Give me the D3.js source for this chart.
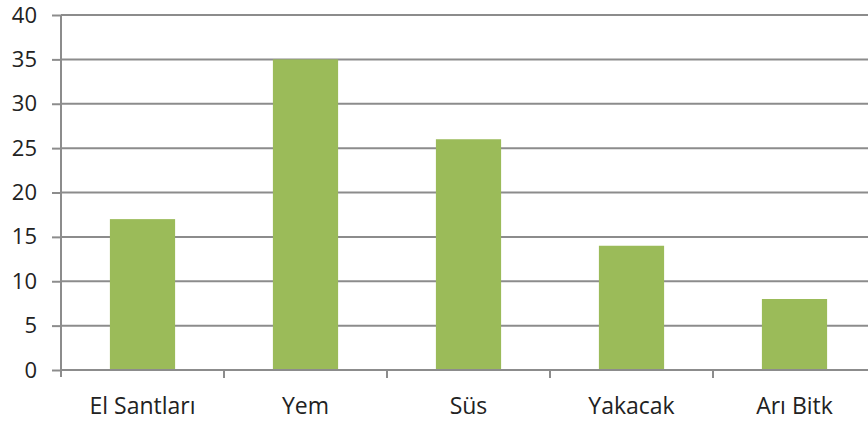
<!DOCTYPE html>
<html>
<head>
<meta charset="utf-8">
<script src="https://cdn.jsdelivr.net/npm/d3@7"></script>
<style>
  body { margin: 0; background: #fff; }
  .tick text { font-family: "Open Sans", "Liberation Sans", sans-serif; fill: #222; }
</style>
</head>
<body>
<div class="chart"></div>
<script>
var categories = ["El Santları", "Yem", "Süs", "Yakacak", "Arı Bitk"];
var values = [17, 35, 26, 14, 8];
var yTicks = [0, 5, 10, 15, 20, 25, 30, 35, 40];

var svgWidth = 868;
var svgHeight = 421;

var margin = { top: 15, right: -8, bottom: 51, left: 61 };
var chartWidth = svgWidth - margin.left - margin.right;
var chartHeight = svgHeight - margin.top - margin.bottom;

var svg = d3.select(".chart")
    .append("svg")
    .attr("width", svgWidth)
    .attr("height", svgHeight);

var chartGroup = svg.append("g")
    .attr("transform", `translate(${margin.left}, ${margin.top})`);

var xScale = d3.scaleBand()
    .domain(categories)
    .range([0, chartWidth])
    .paddingInner(0.6)
    .paddingOuter(0.3);

var yScale = d3.scaleLinear()
    .domain([0, 40])
    .range([chartHeight, 0]);

// gridlines
chartGroup.selectAll(".grid")
    .data(yTicks.filter(d => d > 0))
    .enter()
    .append("line")
    .attr("class", "grid")
    .attr("x1", 0)
    .attr("x2", chartWidth)
    .attr("y1", d => yScale(d))
    .attr("y2", d => yScale(d))
    .attr("stroke", "#8c8c8c")
    .attr("stroke-width", 2);

// bars
chartGroup.selectAll("rect")
    .data(values)
    .enter()
    .append("rect")
    .attr("x", (d, i) => xScale(categories[i]))
    .attr("y", d => yScale(d))
    .attr("width", xScale.bandwidth())
    .attr("height", d => chartHeight - yScale(d))
    .attr("fill", "#9bbb59");

// y axis
var leftAxis = d3.axisLeft(yScale).tickValues(yTicks).tickSize(9).tickPadding(15);
var yAxis = chartGroup.append("g").call(leftAxis);
yAxis.select(".domain").remove();
yAxis.selectAll(".tick line").attr("stroke", "#8c8c8c").attr("stroke-width", 2);
yAxis.selectAll(".tick text").attr("font-size", 22);
chartGroup.append("line")
    .attr("x1", 0).attr("x2", 0)
    .attr("y1", 0).attr("y2", chartHeight + 7)
    .attr("stroke", "#8c8c8c").attr("stroke-width", 2);

// x axis
var bottomAxis = d3.axisBottom(xScale).tickSize(0).tickPadding(28);
var xAxis = chartGroup.append("g")
    .attr("transform", `translate(0, ${chartHeight})`)
    .call(bottomAxis);
xAxis.select(".domain").remove();
xAxis.selectAll(".tick text").attr("font-size", 23);
chartGroup.append("line")
    .attr("x1", 0).attr("x2", chartWidth)
    .attr("y1", chartHeight).attr("y2", chartHeight)
    .attr("stroke", "#8c8c8c").attr("stroke-width", 2);

// category boundary ticks
var step = xScale.step();
chartGroup.selectAll(".xtick")
    .data(d3.range(1, categories.length))
    .enter()
    .append("line")
    .attr("class", "xtick")
    .attr("x1", d => d * step)
    .attr("x2", d => d * step)
    .attr("y1", chartHeight)
    .attr("y2", chartHeight + 8)
    .attr("stroke", "#8c8c8c")
    .attr("stroke-width", 2);
</script>
</body>
</html>
